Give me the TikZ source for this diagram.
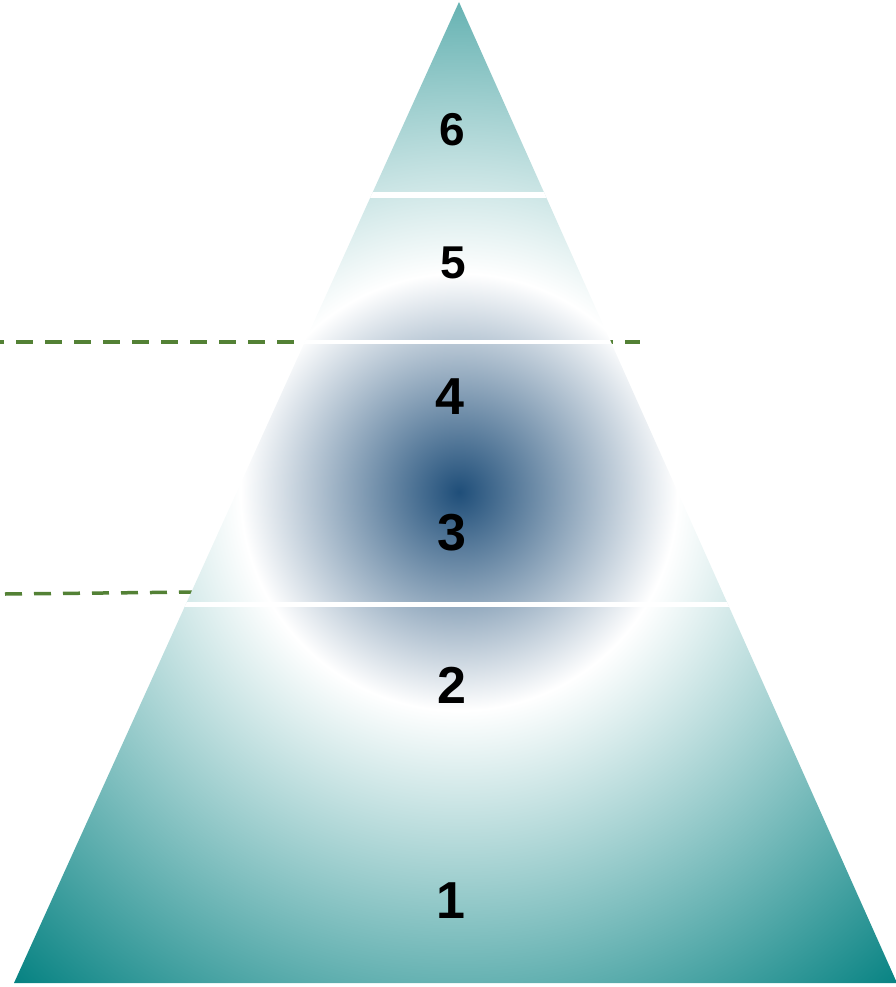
\documentclass[tikz,border=0pt]{standalone}
\usepackage{fontspec}
\setmainfont{Liberation Sans}
\definecolor{deepblue}{HTML}{1F4E79}
\definecolor{pyrteal}{HTML}{007F7F}
\definecolor{dashgreen}{HTML}{538135}
\pgfdeclareradialshading{glow}{\pgfpoint{0bp}{0bp}}{color(0bp)=(deepblue); color(7.8bp)=(white); color(24bp)=(pyrteal); color(50bp)=(pyrteal)}

\begin{document}
\begin{tikzpicture}[x=1pt, y=-1pt,
  num/.style={font=\bfseries\fontsize{52}{52}\selectfont, text=black, inner sep=0pt},
  numtop/.style={num, font=\bfseries\fontsize{46}{46}\selectfont},
  sep/.style={draw=white},
  guide/.style={dashgreen, line width=3.5pt, dash pattern=on 17pt off 12pt}]
  \useasboundingbox (0,0) rectangle (896,987);
  % dashed guides, behind the pyramid
  \coordinate (g1a) at (0,342);
  \coordinate (g1b) at (640,342);
  \coordinate (g2a) at (5,594);
  \coordinate (g2b) at (200,592);
  \draw[guide, dash phase=13pt] (g1a) -- (g1b);
  \draw[guide] (g2a) -- (g2b);
  % pyramid
  \coordinate (apex) at (459,2);
  \coordinate (bl) at (14,983);
  \coordinate (br) at (897,983);
  \begin{scope}
    \clip (apex) -- (bl) -- (br) -- cycle;
    \shade[shading=glow] (459,492) circle (700);
    \draw[sep, line width=6pt] (0,195) -- (896,195);
    \draw[sep, line width=4pt] (0,342) -- (896,342);
    \draw[sep, line width=5pt] (0,604) -- (896,604);
  \end{scope}
  % levels
  \node[numtop] (n6) at (452,130) {6};
  \node[numtop] (n5) at (453,263) {5};
  \node[num] (n4) at (450,397) {4};
  \node[num] (n3) at (452,533) {3};
  \node[num] (n2) at (452,685) {2};
  \node[num] (n1) at (451,901) {1};
\end{tikzpicture}
\end{document}
